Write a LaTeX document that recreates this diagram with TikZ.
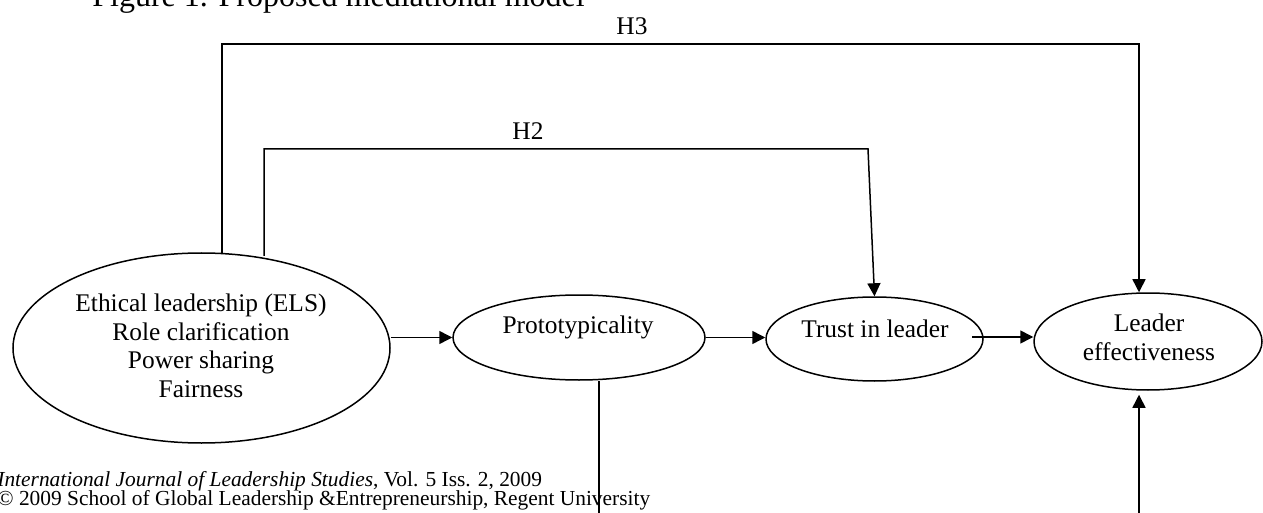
\documentclass[tikz,border=0pt]{standalone}
\usepackage{fontspec}
\setmainfont{Liberation Serif}
\usetikzlibrary{arrows.meta,shapes.geometric}
\begin{document}
\begin{tikzpicture}[x=0.5pt,y=-0.5pt,
  ell/.style={draw,ellipse,line width=0.75pt,inner sep=0pt},
  lbl/.style={anchor=base,inner sep=0pt,font=\fontsize{12.7pt}{15pt}\selectfont},
  foot/.style={anchor=base west,inner sep=0pt,font=\fontsize{10.7pt}{12pt}\selectfont},
  conn/.style={line width=0.75pt},
  arr/.style={conn,-{Triangle[length=6.5pt,width=6.5pt]}}]
\useasboundingbox (0,0) rectangle (1263,513);
% title (top clipped)
\node[anchor=base west,inner sep=0pt,font=\fontsize{16pt}{18pt}\selectfont] (title) at (92,7) {Figure 1. Proposed mediational model};
% ellipses
\node[ell,minimum width=188.5pt,minimum height=95pt] (els) at (201.5,348) {};
\node[ell,minimum width=126pt,minimum height=42.5pt] (proto) at (579,337.5) {};
\node[ell,minimum width=108.5pt,minimum height=42pt] (trust) at (874.5,339) {};
\node[ell,minimum width=114pt,minimum height=48.5pt] (le) at (1148,341.5) {};
% texts
\node[lbl] (els1) at (201,312) {Ethical leadership (ELS)};
\node[lbl] (els2) at (201,340) {Role clarification};
\node[lbl] (els3) at (201,368) {Power sharing};
\node[lbl] (els4) at (201,397) {Fairness};
\node[lbl] (protot) at (578,333) {Prototypicality};
\node[lbl] (trustt) at (875,337) {Trust in leader};
\node[lbl] (le1) at (1149,331) {Leader};
\node[lbl] (le2) at (1149,360) {effectiveness};
\node[lbl] (h3) at (632,35) {H3};
\node[lbl] (h2) at (528,140) {H2};
% footer
\node[foot] (foot1) at (-3,486) {\textit{International Journal of Leadership Studies}, Vol. 5 Iss. 2, 2009};
\node[foot] (foot2) at (-3,505) {© 2009 School of Global Leadership \&Entrepreneurship, Regent University};
% coordinates
\coordinate (h3a) at (222,253);
\coordinate (h3c) at (1139,44);
\coordinate (h2a) at (264,256);
\coordinate (h2c) at (868,149);
\coordinate (t0) at (972,337);
\coordinate (le0) at (1139,513);
\coordinate (p0) at (599,513);
% connectors
\draw[arr] (els.east |- proto.west) -- (proto.west);
\draw[arr] (proto.east) -- (proto.east -| trust.west);
\draw[arr] (t0) -- (t0 -| le.west);
\draw[arr] (h3a) |- (h3c) -- (h3c |- le.north);
\draw[arr] (h2a) |- (h2c) -- (trust.north);
\draw[arr,shorten >=2pt] (le0) -- (le0 |- le.south);
\draw[conn] (p0 |- proto.south) -- (p0);
\end{tikzpicture}
\end{document}
